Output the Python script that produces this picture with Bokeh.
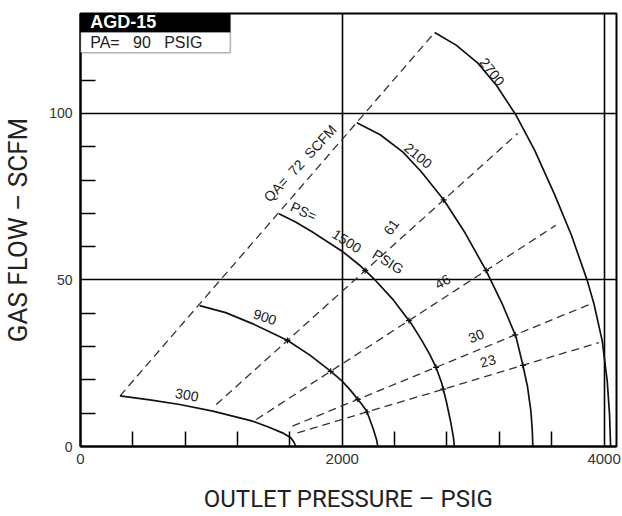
import math
from bokeh.plotting import figure
from bokeh.models import Range1d, FixedTicker, BoxAnnotation, Label, ColumnDataSource
from bokeh.embed import file_html
from bokeh.resources import INLINE

# ---- data ----
# supply-pressure curves (PS, psig): outlet pressure (psig) vs gas flow (scfm)
ps_levels = [300, 900, 1500, 2100, 2700]
ps300_x = [302, 530, 758, 1011, 1315, 1440, 1543, 1607, 1632, 1645]
ps300_y = [15.2, 14.0, 12.6, 10.6, 7.6, 5.8, 4.1, 2.6, 1.2, 0.0]
ps900_x = [910, 1109, 1313, 1579, 1750, 1908, 1997, 2060, 2149, 2187, 2235, 2262, 2272]
ps900_y = [42.3, 40.2, 36.9, 31.9, 27.5, 22.7, 19.7, 17.0, 12.7, 10.6, 5.5, 2.0, 0.0]
ps1500_x = [1516, 1640, 1769, 2010, 2130, 2250, 2390, 2529, 2605, 2670, 2719, 2760, 2795, 2830, 2850, 2856]
ps1500_y = [69.9, 67.5, 64.5, 58.3, 54.5, 50.0, 44.0, 36.8, 32.0, 27.5, 23.5, 19.0, 13.5, 7.0, 2.5, 0.0]
ps2100_x = [2111, 2290, 2466, 2605, 2776, 2940, 3099, 3220, 3327, 3378, 3415, 3441, 3452, 3456]
ps2100_y = [97.2, 93.6, 88.3, 82.4, 74.0, 64.0, 52.8, 43.0, 33.0, 24.7, 18.0, 10.6, 4.5, 0.0]
ps2700_x = [2706, 2870, 3036, 3180, 3327, 3470, 3619, 3750, 3872, 3923, 3986, 4024, 4042, 4050]
ps2700_y = [124.3, 120.5, 115.1, 108.3, 99.5, 88.9, 75.9, 63.5, 49.8, 42.8, 31.7, 19.7, 9.5, 0.0]

# air-consumption lines (QA, scfm)
qa_levels = [72, 61, 46, 30, 23]
qa_x0 = [302, 1037, 1343, 1619, 1657]
qa_y0 = [15.2, 12.6, 8.1, 6.1, 4.1]
qa_x1 = [2706, 3340, 3631, 3910, 3960]
qa_y1 = [124.3, 94.0, 66.4, 43.0, 31.2]

x_major = [0, 2000, 4000]
x_minor = [400, 800, 1200, 1600, 2400, 2800, 3200, 3600]
y_major = [0, 50, 100]
y_minor = [10, 20, 30, 40, 60, 70, 80, 90, 110, 120]

title_model = "AGD-15"
title_pa = "PA=\u00a0\u00a0\u00a090\u00a0\u00a0\u00a0PSIG"

curves = [(ps300_x, ps300_y), (ps900_x, ps900_y), (ps1500_x, ps1500_y),
          (ps2100_x, ps2100_y), (ps2700_x, ps2700_y)]

p = figure(width=622, height=516, x_range=Range1d(0, 4095), y_range=Range1d(0, 130),
           output_backend="svg", toolbar_location=None,
           min_border_left=77, min_border_right=6, min_border_top=13, min_border_bottom=70)
p.background_fill_color = "white"
p.border_fill_color = "white"
p.outline_line_color = "black"
p.outline_line_width = 2

tick_font = "Liberation Sans"
lab_font = "Roboto"

for ax, major, minor, fs, afs in ((p.xaxis[0], x_major, x_minor, "15px", "24px"),
                                  (p.yaxis[0], y_major, y_minor, "14px", "26px")):
    ax.ticker = FixedTicker(ticks=major, minor_ticks=minor)
    ax.axis_line_color = "black"
    ax.axis_line_width = 2
    ax.major_tick_in = 0
    ax.major_tick_out = 0
    ax.minor_tick_in = 15
    ax.minor_tick_out = 0
    ax.minor_tick_line_color = "black"
    ax.minor_tick_line_width = 1.5
    ax.major_label_text_font = tick_font
    ax.major_label_text_font_size = fs
    ax.major_label_text_color = "#333333"
    ax.axis_label_text_font = lab_font
    ax.axis_label_text_font_size = afs
    ax.axis_label_text_font_style = "normal"
    ax.axis_label_text_color = "#222222"

p.xaxis.axis_label = "OUTLET PRESSURE – PSIG"
p.yaxis.axis_label = "GAS FLOW – SCFM"
p.xaxis.major_label_standoff = 7
p.yaxis.major_label_standoff = 8
p.xaxis.axis_label_standoff = 18
p.yaxis.axis_label_standoff = 13

p.xgrid.ticker = FixedTicker(ticks=[2000, 4000])
p.ygrid.ticker = FixedTicker(ticks=[50, 100])
for g in (p.xgrid[0], p.ygrid[0]):
    g.grid_line_color = "black"
    g.grid_line_width = 1.6

# QA dashed lines
qa_src = ColumnDataSource(dict(x0=qa_x0, y0=qa_y0, x1=qa_x1, y1=qa_y1))
p.segment("x0", "y0", "x1", "y1", source=qa_src, line_color="#333333",
          line_width=1.3, line_dash="8 5")

# PS curves
for xs, ys in curves:
    p.line(xs, ys, line_color="#111111", line_width=1.7)

# small tick marks where QA lines cross PS curves (computed from the data)
ix, iy = [], []
for a0, b0, a1, b1 in zip(qa_x0, qa_y0, qa_x1, qa_y1):
    for xs, ys in curves:
        for k in range(len(xs) - 1):
            c0, d0, c1, d1 = xs[k], ys[k], xs[k + 1], ys[k + 1]
            den = (a1 - a0) * (d1 - d0) - (b1 - b0) * (c1 - c0)
            if den == 0:
                continue
            t = ((c0 - a0) * (d1 - d0) - (d0 - b0) * (c1 - c0)) / den
            u = ((c0 - a0) * (b1 - b0) - (d0 - b0) * (a1 - a0)) / den
            if 0.02 < t < 0.98 and 0 <= u <= 1:
                ix.append(a0 + t * (a1 - a0))
                iy.append(b0 + t * (b1 - b0))
p.scatter(ix, iy, marker="cross", size=6, line_color="#111111", line_width=1.2)

def lab(x, y, t, ang, size="14px"):
    p.add_layout(Label(x=x, y=y, text=t, angle=math.radians(ang), text_font=tick_font,
                       text_font_size=size, text_color="#222222",
                       text_align="center", text_baseline="middle"))

lab(813, 15.5, str(ps_levels[0]), -10)
lab(1409, 38.9, str(ps_levels[1]), -18)
lab(1704, 70.6, "PS=", -25)
lab(2035, 61.7, str(ps_levels[2]), -33)
lab(2350, 55.5, "PSIG", -32)
lab(2580, 87.3, str(ps_levels[3]), -40)
lab(3145, 112.5, str(ps_levels[4]), -52)

lab(1678, 85.0, "QA=\u00a0\u00a0%d\u00a0\u00a0SCFM" % qa_levels[0], 47)
lab(2373, 65.9, str(qa_levels[1]), 55)
lab(2766, 49.5, str(qa_levels[2]), 30)
lab(3023, 33.2, str(qa_levels[3]), 22)
lab(3112, 25.7, str(qa_levels[4]), 15)

# title boxes
p.add_layout(BoxAnnotation(left=0, right=1145, bottom=124.4, top=130, fill_color="black",
                           fill_alpha=1, line_color="black", line_width=1.5))
p.add_layout(BoxAnnotation(left=0, right=1145, bottom=118.2, top=124.4, fill_color="white",
                           fill_alpha=1, line_color="black", line_width=1.5))
p.add_layout(Label(x=74, y=127.3, text=title_model, text_font=tick_font, text_font_size="18px",
                   text_font_style="bold", text_color="white", text_baseline="middle"))
p.add_layout(Label(x=74, y=121.2, text=title_pa, text_font=tick_font, text_font_size="16px",
                   text_color="#222222", text_baseline="middle"))

open("out.html", "w").write(file_html(p, INLINE))
